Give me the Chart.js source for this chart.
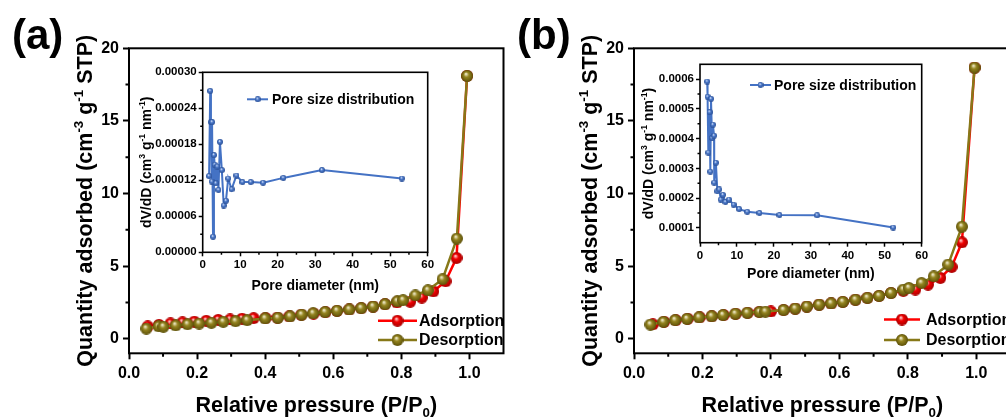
<!DOCTYPE html>
<html><head><meta charset="utf-8">
<script src="https://cdn.jsdelivr.net/npm/chart.js@4.4.0/dist/chart.umd.min.js"></script>
<style>
html,body{margin:0;padding:0;background:#fff;width:1006px;height:419px;overflow:hidden;position:relative}
canvas{position:absolute;display:block}
</style></head><body>
<canvas id="ma"></canvas><canvas id="mb"></canvas><canvas id="ia"></canvas><canvas id="ib"></canvas>
<script>
// ---------------- DATA ----------------
// Panel (a) N2 isotherm
const aAdsP = [0.055,0.088,0.122,0.157,0.192,0.227,0.262,0.297,0.332,0.366,0.401,0.436,0.471,0.506,0.542,0.577,0.611,0.647,0.682,0.717,0.752,0.787,0.826,0.860,0.894,0.930,0.962,0.993];
const aAdsQ = [0.85,0.96,1.06,1.13,1.18,1.24,1.30,1.33,1.38,1.42,1.43,1.46,1.54,1.65,1.74,1.83,1.92,2.02,2.11,2.22,2.38,2.50,2.55,2.84,3.26,3.96,5.57,18.1];
const aDesP = [0.051,0.087,0.101,0.137,0.172,0.206,0.242,0.277,0.313,0.347,0.400,0.437,0.473,0.507,0.541,0.576,0.611,0.647,0.682,0.717,0.752,0.788,0.805,0.841,0.878,0.921,0.963,0.993];
const aDesQ = [0.70,0.86,0.83,0.92,1.00,1.05,1.10,1.17,1.21,1.28,1.40,1.44,1.54,1.66,1.75,1.84,1.93,2.02,2.11,2.22,2.38,2.58,2.66,2.98,3.34,4.10,6.90,18.1];
// Panel (a) pore size distribution
const aPoreD = [1.7,2.0,2.2,2.4,2.5,2.75,3.0,3.2,3.5,3.9,4.2,4.6,5.1,5.6,6.2,6.8,7.7,9.0,10.6,12.8,16.1,21.5,31.8,53.1];
const aPoreV = [0.000127,0.000269,0.000217,0.000118,0.000217,0.000026,0.000162,0.000146,0.000115,0.000143,0.000104,0.000184,0.000137,0.000078,0.000086,0.000123,0.000105,0.000128,0.000117,0.000117,0.000116,0.000124,0.000137,0.000123];
// Panel (b) N2 isotherm
const bAdsP = [0.055,0.088,0.122,0.157,0.192,0.227,0.262,0.297,0.332,0.366,0.400,0.437,0.471,0.505,0.541,0.576,0.610,0.647,0.682,0.716,0.751,0.787,0.822,0.859,0.895,0.928,0.958,0.995];
const bAdsQ = [1.00,1.17,1.28,1.38,1.48,1.55,1.63,1.72,1.79,1.85,1.88,1.98,2.08,2.22,2.35,2.43,2.54,2.69,2.82,2.95,3.15,3.30,3.39,3.73,4.19,4.95,6.64,18.67];
const bDesP = [0.048,0.086,0.120,0.155,0.190,0.227,0.260,0.296,0.331,0.367,0.384,0.437,0.471,0.505,0.541,0.576,0.610,0.647,0.682,0.716,0.751,0.787,0.803,0.840,0.876,0.918,0.958,0.995];
const bDesQ = [0.98,1.16,1.28,1.37,1.47,1.55,1.63,1.72,1.79,1.84,1.87,1.98,2.08,2.22,2.35,2.44,2.54,2.69,2.82,2.95,3.15,3.39,3.50,3.84,4.30,5.11,7.72,18.67];
// Panel (b) pore size distribution
const bPoreD = [1.95,2.05,2.25,2.6,2.8,2.98,3.25,3.5,3.8,3.85,4.3,4.7,5.2,5.6,6.2,6.9,7.85,9.1,10.6,12.8,16.1,21.5,31.7,52.3];
const bPoreV = [0.000592,0.000541,0.000353,0.000489,0.000289,0.000534,0.000402,0.000447,0.000410,0.000252,0.000319,0.000223,0.000229,0.000195,0.000211,0.000187,0.000195,0.000178,0.000163,0.000154,0.000150,0.000143,0.000142,0.000101];
// Ticks
const isoXTicks = [0,0.2,0.4,0.6,0.8,1.0];
const isoXMinor = [0.1,0.3,0.5,0.7,0.9];
const isoYTicks = [0,5,10,15,20];
const isoYMinor = [2.5,7.5,12.5,17.5];
const poreXTicks = [0,10,20,30,40,50,60];
const poreXMinor = [5,15,25,35,45,55];
const poreAYTicks = [0,0.00006,0.00012,0.00018,0.00024,0.00030];
const poreAYMinor = [0.00003,0.00009,0.00015,0.00021,0.00027];
const poreBYTicks = [0.0001,0.0002,0.0003,0.0004,0.0005,0.0006];
const poreBYMinor = [0.00015,0.00025,0.00035,0.00045,0.00055];
// Labels
const adsLabel = 'Adsorption', desLabel = 'Desorption', poreLabel = 'Pore size distribution';
const isoXTitle = [['Relative pressure (P/P',0],['0',2],[')',0]];
const isoYTitle = [['Quantity adsorbed (cm',0],['-3',1],[' g',0],['-1',1],[' STP)',0]];
const poreXTitle = [['Pore diameter (nm)',0]];
const poreYTitle = [['dV/dD (cm',0],['3',1],[' g',0],['-1',1],[' nm',0],['-1',1],[')',0]];

// ---------------- STYLE ----------------
const FONT = "'Liberation Sans', Arial, Helvetica, sans-serif";
const RED = '#ff0000', OLIVE = '#877818', BLUE = '#4472c4';
function ball(d, light, base, dark) {
  const c = document.createElement('canvas'); c.width = c.height = d;
  const g = c.getContext('2d'); const r = d / 2;
  const gr = g.createRadialGradient(r * 0.8, r * 0.65, r * 0.05, r, r, r);
  gr.addColorStop(0, light); gr.addColorStop(0.4, base); gr.addColorStop(1, dark);
  g.fillStyle = gr; g.beginPath(); g.arc(r, r, r, 0, Math.PI * 2); g.fill();
  return c;
}
const ballRed = ball(12, '#ffd6d6', '#f00000', '#a80000');
const ballOlive = ball(12, '#f4f0d4', '#958520', '#5c5008');
const ballBlue = ball(6, '#eef3ff', '#4d7bcc', '#2a4f95');

function drawRich(ctx, segs, x, y, size, rot) {
  ctx.save(); ctx.translate(x, y); if (rot) ctx.rotate(-Math.PI / 2);
  ctx.textBaseline = 'alphabetic'; ctx.textAlign = 'left'; ctx.fillStyle = '#000';
  const parts = segs.map(([t, k]) => { const fs = k ? size * 0.62 : size; ctx.font = `bold ${fs}px ${FONT}`; return {t, k, fs, w: ctx.measureText(t).width}; });
  let cx = -parts.reduce((s, p) => s + p.w, 0) / 2;
  for (const p of parts) {
    ctx.font = `bold ${p.fs}px ${FONT}`;
    const dy = p.k === 1 ? -size * 0.40 : p.k === 2 ? size * 0.22 : 0;
    ctx.fillText(p.t, cx, dy); cx += p.w;
  }
  ctx.restore();
}

const deco = {
  id: 'deco',
  afterDraw(chart, args, o) {
    const ctx = chart.ctx, a = chart.chartArea, sx = chart.scales.x, sy = chart.scales.y;
    ctx.save();
    ctx.strokeStyle = '#000'; ctx.lineWidth = o.tw; ctx.beginPath();
    o.minorX.forEach(v => { const p = sx.getPixelForValue(v); ctx.moveTo(p, a.bottom); ctx.lineTo(p, a.bottom + o.ml); });
    o.minorY.forEach(v => { const p = sy.getPixelForValue(v); ctx.moveTo(a.left, p); ctx.lineTo(a.left - o.ml, p); });
    ctx.stroke();
    ctx.lineWidth = o.bw; ctx.strokeRect(a.left, a.top, a.right - a.left, a.bottom - a.top);
    drawRich(ctx, o.xTitle, (a.left + a.right) / 2, a.bottom + o.xdy, o.tfs, false);
    drawRich(ctx, o.yTitle, a.left - o.ydx, (a.top + a.bottom) / 2, o.tfs, true);
    if (o.panel) { ctx.fillStyle = '#000'; ctx.font = `bold 42px ${FONT}`; ctx.textBaseline = 'alphabetic'; ctx.textAlign = 'left'; ctx.fillText(o.panel.t, o.panel.x, o.panel.y); }
    const L = o.legend;
    L.items.forEach((it, i) => {
      const ds = chart.data.datasets[it.ds]; const y = L.ys[i];
      ctx.strokeStyle = ds.borderColor; ctx.lineWidth = ds.borderWidth;
      ctx.beginPath(); ctx.moveTo(L.x0, y); ctx.lineTo(L.x1, y); ctx.stroke();
      const img = ds.pointStyle; ctx.drawImage(img, L.xm - img.width / 2, y - img.height / 2);
      ctx.fillStyle = '#000'; ctx.font = `bold ${L.fs}px ${FONT}`; ctx.textBaseline = 'middle'; ctx.textAlign = 'left';
      ctx.fillText(it.text, L.xt, y + 1);
    });
    ctx.restore();
  }
};

function axis(o) {
  return {
    type: 'linear', min: o.min, max: o.max,
    afterBuildTicks: s => { s.ticks = o.ticks.map(v => ({value: v})); },
    afterFit: s => { if (o.w != null) s.width = o.w; if (o.h != null) s.height = o.h; },
    ticks: {autoSkip: false, maxRotation: 0, minRotation: 0, color: '#000', padding: o.pad, font: {family: FONT, size: o.fs, weight: 'bold'}, callback: o.fmt},
    grid: {drawOnChartArea: false, drawTicks: true, tickLength: o.tl, tickWidth: o.tw, tickColor: '#000'},
    border: {display: false}
  };
}

function make(id, box, area, cfg) {
  const cv = document.getElementById(id);
  cv.width = box.w; cv.height = box.h;
  cv.style.left = box.x + 'px'; cv.style.top = box.y + 'px';
  cv.style.width = box.w + 'px'; cv.style.height = box.h + 'px';
  const pad = {left: 0, top: area.t - box.y, right: box.x + box.w - area.r, bottom: 0};
  cfg.x.w = null; cfg.x.h = box.y + box.h - area.b;
  cfg.y.w = area.l - box.x; cfg.y.h = null;
  const dec = Object.assign({}, cfg.deco);
  const ox = box.x, oy = box.y;
  dec.legend = Object.assign({}, dec.legend, {x0: dec.legend.x0 - ox, x1: dec.legend.x1 - ox, xm: dec.legend.xm - ox, xt: dec.legend.xt - ox, ys: dec.legend.ys.map(v => v - oy)});
  if (dec.panel) dec.panel = {t: dec.panel.t, x: dec.panel.x - ox, y: dec.panel.y - oy};
  return new Chart(cv, {
    type: 'scatter',
    data: {datasets: cfg.datasets},
    options: {
      responsive: false, animation: false, devicePixelRatio: 1, events: [],
      layout: {padding: pad},
      plugins: {legend: {display: false}, tooltip: {enabled: false}, deco: dec},
      scales: {x: axis(cfg.x), y: axis(cfg.y)}
    },
    plugins: [deco]
  });
}

function isoSets(adsP, adsQ, desP, desQ) {
  return [
    {label: desLabel, data: desP.map((x, i) => ({x, y: desQ[i]})), showLine: true, borderColor: OLIVE, borderWidth: 2.5, pointStyle: ballOlive, pointRadius: 6, order: 0},
    {label: adsLabel, data: adsP.map((x, i) => ({x, y: adsQ[i]})), showLine: true, borderColor: RED, borderWidth: 2.5, pointStyle: ballRed, pointRadius: 6, order: 1}
  ];
}
function poreSet(d, v) {
  return [{label: poreLabel, data: d.map((x, i) => ({x, y: v[i]})), showLine: true, borderColor: BLUE, borderWidth: 2, pointStyle: ballBlue, pointRadius: 3}];
}
const isoX = {min: 0, max: 1.1, ticks: isoXTicks, fmt: v => v.toFixed(1), fs: 16, pad: 5, tl: 6, tw: 2};
const isoY = {min: -1, max: 20, ticks: isoYTicks, fmt: v => String(v), fs: 16, pad: 4, tl: 6, tw: 2};
const isoDeco = (panel, leg) => ({minorX: isoXMinor, minorY: isoYMinor, ml: 3.5, tw: 2, bw: 2, xTitle: isoXTitle, yTitle: isoYTitle, tfs: 21.5, xdy: 59, ydx: 37, panel, legend: leg});

make('ma', {x: 0, y: 0, w: 512, h: 419}, {l: 129, t: 48.3, r: 508, b: 353.3}, {
  datasets: isoSets(aAdsP, aAdsQ, aDesP, aDesQ),
  x: Object.assign({}, isoX), y: Object.assign({}, isoY),
  deco: isoDeco({t: '(a)', x: 12, y: 49}, {x0: 378, x1: 417, xm: 397.5, xt: 419, fs: 16, ys: [320.7, 340], items: [{ds: 1, text: adsLabel}, {ds: 0, text: desLabel}]})
});
make('mb', {x: 509, y: 0, w: 510, h: 419}, {l: 634, t: 48.3, r: 1012.4, b: 353.3}, {
  datasets: isoSets(bAdsP, bAdsQ, bDesP, bDesQ),
  x: Object.assign({}, isoX), y: Object.assign({}, isoY),
  deco: isoDeco({t: '(b)', x: 517, y: 49}, {x0: 884, x1: 920, xm: 902, xt: 926, fs: 16, ys: [319.5, 340], items: [{ds: 1, text: adsLabel}, {ds: 0, text: desLabel}]})
});
make('ia', {x: 130, y: 40, w: 310, h: 260}, {l: 202.7, t: 72.3, r: 427.7, b: 252.3}, {
  datasets: poreSet(aPoreD, aPoreV),
  x: {min: 0, max: 60, ticks: poreXTicks, fmt: v => String(v), fs: 11.5, pad: 2, tl: 4, tw: 1.5},
  y: {min: 0, max: 0.0003, ticks: poreAYTicks, fmt: v => v.toFixed(5), fs: 11.5, pad: 2, tl: 4, tw: 1.5},
  deco: {minorX: poreXMinor, minorY: poreAYMinor, ml: 2.5, tw: 1.5, bw: 1.6, xTitle: poreXTitle, yTitle: poreYTitle, tfs: 14, xdy: 38, ydx: 52,
    legend: {x0: 247, x1: 268, xm: 257.7, xt: 272, fs: 14, ys: [99.3], items: [{ds: 0, text: poreLabel}]}}
});
make('ib', {x: 640, y: 40, w: 300, h: 250}, {l: 700, t: 64.3, r: 921.7, b: 242.7}, {
  datasets: poreSet(bPoreD, bPoreV),
  x: {min: 0, max: 60, ticks: poreXTicks, fmt: v => String(v), fs: 11.5, pad: 2, tl: 4, tw: 1.5},
  y: {min: 0.00005, max: 0.00065, ticks: poreBYTicks, fmt: v => v.toFixed(4), fs: 11.5, pad: 2, tl: 4, tw: 1.5},
  deco: {minorX: poreXMinor, minorY: poreBYMinor, ml: 2.5, tw: 1.5, bw: 1.6, xTitle: poreXTitle, yTitle: poreYTitle, tfs: 14, xdy: 35, ydx: 47,
    legend: {x0: 750, x1: 771, xm: 760.5, xt: 774, fs: 14, ys: [85], items: [{ds: 0, text: poreLabel}]}}
});
</script>
</body></html>
